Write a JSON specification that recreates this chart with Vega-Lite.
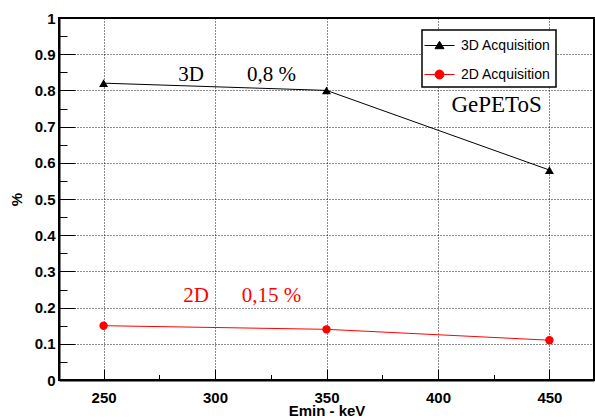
{
  "$schema": "https://vega.github.io/schema/vega-lite/v6.json",
  "width": 535,
  "height": 362,
  "autosize": {"type": "none"},
  "padding": {"left": 59, "top": 18, "right": 1, "bottom": 38},
  "background": "white",
  "config": {
    "view": {"stroke": "black", "strokeWidth": 2},
    "font": "Liberation Sans"
  },
  "datasets": {
    "series": [
      {"emin": 250, "pct": 0.82, "series": "3D Acquisition"},
      {"emin": 350, "pct": 0.80, "series": "3D Acquisition"},
      {"emin": 450, "pct": 0.58, "series": "3D Acquisition"},
      {"emin": 250, "pct": 0.15, "series": "2D Acquisition"},
      {"emin": 350, "pct": 0.14, "series": "2D Acquisition"},
      {"emin": 450, "pct": 0.11, "series": "2D Acquisition"}
    ],
    "notes": [
      {"emin": 289.2, "pct": 0.826, "text": "3D", "group": "3D"},
      {"emin": 325.3, "pct": 0.826, "text": "0,8 %", "group": "3D"},
      {"emin": 291.5, "pct": 0.2155, "text": "2D", "group": "2D"},
      {"emin": 325.3, "pct": 0.2155, "text": "0,15 %", "group": "2D"},
      {"emin": 426.3, "pct": 0.740, "text": "GePEToS", "group": "title"}
    ]
  },
  "encoding": {
    "x": {
      "field": "emin",
      "type": "quantitative",
      "scale": {"domain": [230, 470], "nice": false, "zero": false},
      "axis": {
        "title": "Emin - keV",
        "values": [250, 275, 300, 325, 350, 375, 400, 425, 450],
        "labelExpr": "datum.value % 50 == 0 ? datum.label : ''",
        "labelFont": "Liberation Sans",
        "labelFontWeight": "bold",
        "labelFontSize": 15,
        "labelColor": "black",
        "labelPadding": 21,
        "labelFlush": false,
        "labelOverlap": false,
        "tickColor": "black",
        "tickWidth": 1,
        "tickSize": {"condition": {"test": "datum.value % 50 != 0", "value": -5.5}, "value": -11},
        "domainColor": "black",
        "domainWidth": 2,
        "grid": true,
        "gridColor": "black",
        "gridDash": [1, 2],
        "gridWidth": 1,
        "gridOpacity": {"condition": {"test": "datum.value % 50 != 0", "value": 0}, "value": 0.9},
        "titleFont": "Liberation Sans",
        "titleFontWeight": "bold",
        "titleFontSize": 15,
        "titleColor": "black",
        "titleY": 35,
        "titleBaseline": "alphabetic"
      }
    },
    "y": {
      "field": "pct",
      "type": "quantitative",
      "scale": {"domain": [0, 1], "nice": false, "zero": true},
      "axis": {
        "title": "%",
        "values": [0, 0.05, 0.1, 0.15, 0.2, 0.25, 0.3, 0.35, 0.4, 0.45, 0.5, 0.55, 0.6, 0.65, 0.7, 0.75, 0.8, 0.85, 0.9, 0.95, 1],
        "labelExpr": "round(datum.value * 100) % 10 == 0 ? format(datum.value, '.1~f') : ''",
        "labelFont": "Liberation Sans",
        "labelFontWeight": "bold",
        "labelFontSize": 15,
        "labelColor": "black",
        "labelPadding": 20,
        "labelFlush": false,
        "labelOverlap": false,
        "tickColor": "black",
        "tickWidth": 1,
        "tickSize": {"condition": {"test": "round(datum.value * 100) % 10 != 0", "value": -8}, "value": -16},
        "domainColor": "black",
        "domainWidth": 2,
        "grid": true,
        "gridColor": "black",
        "gridDash": [1, 2],
        "gridWidth": 1,
        "gridOpacity": {"condition": {"test": "round(datum.value * 100) % 10 != 0", "value": 0}, "value": 0.9},
        "titleFont": "Liberation Sans",
        "titleFontWeight": "bold",
        "titleFontSize": 15,
        "titleColor": "black",
        "titleX": -43,
        "titleY": 181,
        "titleAlign": "center",
        "titleBaseline": "middle"
      }
    }
  },
  "layer": [
    {
      "data": {"name": "series"},
      "mark": {"type": "line", "strokeWidth": 1},
      "encoding": {
        "color": {
          "field": "series",
          "type": "nominal",
          "scale": {"domain": ["3D Acquisition", "2D Acquisition"], "range": ["black", "#ff0000"]},
          "legend": {
            "title": null,
            "orient": "none",
            "legendX": 363,
            "legendY": 12,
            "padding": 5,
            "strokeColor": "black",
            "fillColor": "white",
            "symbolSize": 400,
            "symbolOffset": 2,
            "symbolStrokeWidth": 1,
            "symbolOpacity": 1,
            "labelFont": "Liberation Sans",
            "labelFontSize": 14,
            "labelColor": "black",
            "labelOffset": 11,
            "labelExpr": "datum.label + '         '",
            "rowPadding": 11,
            "encode": {
              "symbols": {
                "update": {
                  "shape": {"signal": "datum.value == '3D Acquisition' ? 'M-1.5,0H1.5M0,-0.42L0.45,0.32L-0.45,0.32Z' : 'M-1.5,0H1.5M0.45,0A0.45,0.45 0 1,1 -0.45,0A0.45,0.45 0 1,1 0.45,0Z'"},
                  "fill": {"scale": "color", "field": "value"},
                  "stroke": {"scale": "color", "field": "value"},
                  "strokeWidth": {"value": 1},
                  "opacity": {"value": 1}
                }
              },
              "legend": {"update": {"strokeWidth": {"value": 1.5}}}
            }
          }
        }
      }
    },
    {
      "data": {"name": "series"},
      "transform": [{"filter": "datum.series == '3D Acquisition'"}],
      "mark": {"type": "point", "filled": true, "opacity": 1, "size": 80, "shape": "triangle-up"},
      "encoding": {
        "color": {"field": "series", "type": "nominal", "legend": null}
      }
    },
    {
      "data": {"name": "series"},
      "transform": [{"filter": "datum.series == '2D Acquisition'"}],
      "mark": {"type": "point", "filled": true, "opacity": 1, "size": 70, "shape": "circle"},
      "encoding": {
        "color": {"field": "series", "type": "nominal", "legend": null}
      }
    },
    {
      "data": {"name": "notes"},
      "transform": [{"filter": "datum.group == '3D'"}],
      "mark": {"type": "text", "font": "Liberation Serif", "fontSize": 21, "color": "black", "align": "center", "baseline": "alphabetic"},
      "encoding": {"text": {"field": "text"}}
    },
    {
      "data": {"name": "notes"},
      "transform": [{"filter": "datum.group == '2D'"}],
      "mark": {"type": "text", "font": "Liberation Serif", "fontSize": 21, "color": "#ff0000", "align": "center", "baseline": "alphabetic"},
      "encoding": {"text": {"field": "text"}}
    },
    {
      "data": {"name": "notes"},
      "transform": [{"filter": "datum.group == 'title'"}],
      "mark": {"type": "text", "font": "Liberation Serif", "fontSize": 23, "color": "black", "align": "center", "baseline": "alphabetic"},
      "encoding": {"text": {"field": "text"}}
    }
  ]
}
